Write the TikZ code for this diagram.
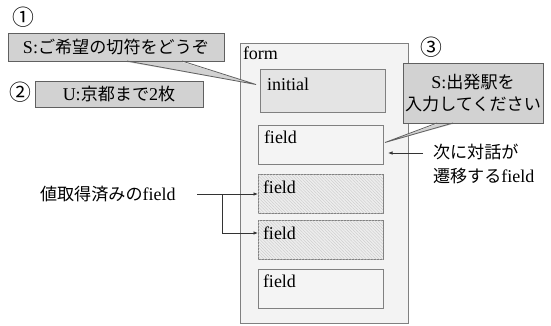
\documentclass[tikz,border=0pt]{standalone}
\usepackage{fontspec}
\setmainfont{Liberation Serif}
\newfontfamily\jp{Noto Sans CJK JP}[Scale=0.95]
\usetikzlibrary{patterns.meta,arrows.meta}
\newcommand\J[1]{{\jp #1}}
\definecolor{formfill}{HTML}{F3F3F3}
\definecolor{initfill}{HTML}{E4E4E4}
\definecolor{fieldfill}{HTML}{F4F4F4}
\definecolor{callfill}{HTML}{D2D2D2}
\definecolor{boxline}{HTML}{808080}
\definecolor{callline}{HTML}{606060}
\tikzset{
  every node/.style={font=\fontsize{18}{21}\selectfont, inner sep=0pt, outer sep=0pt},
  formbox/.style={draw=boxline, fill=formfill, line width=0.8pt, anchor=north west},
  fieldbox/.style={draw=boxline, fill=fieldfill, line width=0.8pt, anchor=north west, minimum width=125pt, minimum height=39pt},
  initbox/.style={fieldbox, fill=initfill},
  donebox/.style={fieldbox, fill=fieldfill!97!black, postaction={pattern={Lines[angle=-45,distance=2.2pt,line width=0.35pt]}, pattern color=black!22}},
  callbox/.style={draw=callline, fill=callfill, line width=0.8pt, anchor=north west},
  lbl/.style={anchor=base west},
  num/.style={font=\fontsize{23}{26}\selectfont\jp},
  arr/.style={draw=black!80, line width=0.7pt, -{Latex[length=4.5pt,width=3.5pt]}},
}
\begin{document}
\begin{tikzpicture}[x=1pt,y=-1pt]
\useasboundingbox (0,0) rectangle (551,325);

% form
\node[formbox, minimum width=168pt, minimum height=280pt] (form) at (240,43) {};
\node[lbl] (formt) at ([xshift=3pt,yshift=-16pt]form.north west) {form};

\node[initbox, minimum height=43pt] (init) at (260,69) {};
\node[lbl] (initt) at ([xshift=7pt,yshift=-21pt]init.north west) {initial};

\node[fieldbox] (f1) at (258,125) {};
\node[lbl] (f1t) at ([xshift=6pt,yshift=-18pt]f1.north west) {field};

\node[donebox] (f2) at (258,174) {};
\node[lbl] (f2t) at ([xshift=5pt,yshift=-19pt]f2.north west) {field};

\node[donebox] (f3) at (258,220) {};
\node[lbl] (f3t) at ([xshift=5pt,yshift=-19pt]f3.north west) {field};

\node[fieldbox] (f4) at (258,269) {};
\node[lbl] (f4t) at ([xshift=5pt,yshift=-18pt]f4.north west) {field};

% callout 1
\node[num] (n1) at (23,17) {①};
\node[callbox, minimum width=216pt, minimum height=28pt] (c1) at (8,33) {S:\J{ご希望の切符をどうぞ}};
\coordinate (c1a) at (127,61);
\coordinate (c1b) at (182,61);
\coordinate (c1tip) at ([xshift=-4pt,yshift=6pt]init.west);
\fill[callfill] ([yshift=-1pt]c1a) -- (c1tip) -- ([yshift=-1pt]c1b) -- cycle;
\draw[callline, line width=0.8pt, line join=miter] (c1a) -- (c1tip) -- (c1b);

% callout 2
\node[num] (n2) at (20,92) {②};
\node[callbox, minimum width=168pt, minimum height=26pt] (c2) at (35,81) {U:\J{京都まで}2\J{枚}};

% callout 3
\node[num] (n3) at (431,47) {③};
\node[callbox, minimum width=140pt, minimum height=60pt, align=center] (c3) at (403,63) {S:\J{出発駅を}\\[1pt]\J{入力してください}};
\coordinate (c3a) at (437,123);
\coordinate (c3b) at (453,123);
\coordinate (c3tip) at ([xshift=2pt,yshift=2pt]f1.east);
\fill[callfill] ([yshift=-1pt]c3a) -- (c3tip) -- ([yshift=-1pt]c3b) -- cycle;
\draw[callline, line width=0.8pt, line join=miter] (c3a) -- (c3tip) -- (c3b);

% next field annotation
\node[anchor=west, align=left] (next) at (433,164) {\J{次に対話が}\\[3pt]\J{遷移する}field};
\coordinate (nexta) at (423,153);
\draw[arr] (nexta) -- ([xshift=5pt]f1.east |- nexta);

% done annotation
\node[anchor=west] (done) at (40,194) {\J{値取得済みの}field};
\coordinate (d0) at (197,194);
\coordinate (dj) at (222,194);
\draw[arr] (d0) -- (f2.west |- d0);
\draw[arr] (dj) |- (f3.west |- 0,233);
\end{tikzpicture}
\end{document}
